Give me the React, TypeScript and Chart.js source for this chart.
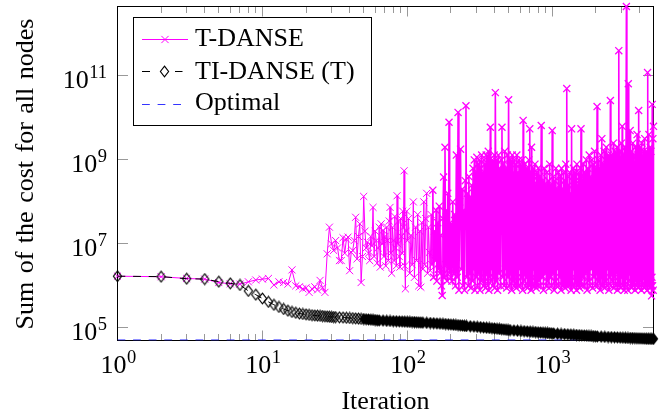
import React, { useEffect, useRef } from 'react';
import { Chart, registerables } from 'chart.js';

Chart.register(...registerables);

const T_DANSE_LABEL = 'T-DANSE';
const TI_DANSE_LABEL = 'TI-DANSE (T)';
const OPTIMAL_LABEL = 'Optimal';
const X_TITLE = 'Iteration';
const Y_TITLE = 'Sum of the cost for all nodes';

const xMajorTicks = [1, 10, 100, 1000];
const xTickExponents = ['0', '1', '2', '3'];
const xMinorTicks = [2, 3, 4, 5, 6, 7, 8, 9, 20, 30, 40, 50, 60, 70, 80, 90, 200, 300, 400, 500, 600, 700, 800, 900, 2000, 3000, 4000];
const yMajorTicks = [1e5, 1e7, 1e9, 1e11];
const yTickExponents = ['5', '7', '9', '11'];

const X_MIN = 1;
const X_MAX = 5000;
const Y_MIN = 5.0e4;
const Y_MAX = 4.5e12;

// T-DANSE: iteration numbers and cost
const tDanseIter = [
  1, 2, 3, 4, 5, 6, 7, 8, 9, 10, 11, 12, 13, 14, 15, 16, 17, 18, 19, 20,
  21, 22, 23, 24, 25, 26, 27, 28, 29, 30, 31, 32, 33, 34, 35, 36, 37, 38, 39, 40,
  41, 42, 43, 44, 45, 46, 47, 48, 49, 50, 51, 52, 53, 54, 55, 56, 57, 58, 59, 60,
  61, 62, 63, 64, 65, 66, 67, 68, 69, 70, 71, 72, 73, 74, 75, 76, 77, 78, 79, 80,
  81, 82, 83, 84, 85, 86, 87, 88, 89, 90, 91, 92, 93, 94, 95, 96, 97, 98, 99, 100,
  102, 104, 106, 108, 110, 112, 114, 116, 118, 120, 122, 124, 126, 128, 130, 132, 134, 136, 138, 140,
  142, 144, 146, 148, 150, 152, 154, 156, 158, 160, 162, 164, 166, 168, 170, 172, 174, 176, 178, 180,
  182, 184, 186, 188, 190, 192, 194, 196, 198, 200,
  203, 206, 209, 212, 215, 218, 221, 224, 227, 230,
  233, 236, 239, 242, 245, 248, 251, 254, 257, 260,
  263, 266, 269, 272, 275, 278, 281, 284, 287, 290,
  293, 296, 299, 302, 305, 308, 311, 314, 317, 320,
  323, 326, 329, 332, 335, 338, 341, 344, 347, 350,
  353, 356, 359, 362, 365, 368, 371, 374, 377, 380,
  383, 386, 389, 392, 395, 398, 401,
  405, 410, 415, 420, 425, 430, 435, 440, 445, 450,
  455, 460, 465, 470, 475, 480, 485, 490, 495, 500,
  505, 510, 515, 520, 525, 530, 535, 540, 545, 550,
  555, 560, 565, 570, 575, 580, 585, 590, 595, 600,
  605, 610, 615, 620, 625, 630, 635, 640, 645, 650,
  655, 660, 665, 670, 675, 680, 685, 690, 695, 700,
  705, 710, 715, 720, 725, 730, 735, 740, 745, 750,
  755, 760, 765, 770, 775, 780, 785, 790, 795, 800,
  810, 820, 830, 840, 850, 860, 870, 880, 890, 900,
  910, 920, 930, 940, 950, 960, 970, 980, 990, 1000,
  1010, 1020, 1030, 1040, 1050, 1060, 1070, 1080, 1090, 1100,
  1110, 1120, 1130, 1140, 1150, 1160, 1170, 1180, 1190, 1200,
  1210, 1220, 1230, 1240, 1250, 1260, 1270, 1280, 1290, 1300,
  1310, 1320, 1330, 1340, 1350, 1360, 1370, 1380, 1390, 1400,
  1410, 1420, 1430, 1440, 1450, 1460, 1470, 1480, 1490, 1500,
  1510, 1520, 1530, 1540, 1550, 1560, 1570, 1580, 1590, 1600,
  1620, 1640, 1660, 1680, 1700, 1720, 1740, 1760, 1780, 1800,
  1820, 1840, 1860, 1880, 1900, 1920, 1940, 1960, 1980, 2000,
  2020, 2040, 2060, 2080, 2100, 2120, 2140, 2160, 2180, 2200,
  2220, 2240, 2260, 2280, 2300, 2320, 2340, 2360, 2380, 2400,
  2420, 2440, 2460, 2480, 2500, 2520, 2540, 2560, 2580, 2600,
  2620, 2640, 2660, 2680, 2700, 2720, 2740, 2760, 2780, 2800,
  2820, 2840, 2860, 2880, 2900, 2920, 2940, 2960, 2980, 3000,
  3020, 3040, 3060, 3080, 3100, 3120, 3140, 3160, 3180, 3200,
  3225, 3250, 3275, 3300, 3325, 3350, 3375, 3400, 3425, 3450,
  3475, 3500, 3525, 3550, 3575, 3600, 3625, 3650, 3675, 3700,
  3725, 3750, 3775, 3800, 3825, 3850, 3875, 3900, 3925, 3950,
  3975, 4000, 4025, 4050, 4075, 4100, 4125, 4150, 4175, 4200,
  4225, 4250, 4275, 4300, 4325, 4350, 4375, 4400, 4425, 4450,
  4475, 4500, 4525, 4550, 4575, 4600, 4625, 4650, 4675, 4700,
  4725, 4750, 4775, 4800, 4825, 4850, 4875, 4900, 4925, 4950,
  4975, 5000,
];
const tDanseCost = [
  1.7e6, 1.65e6, 1.5e6, 1.45e6, 1.2e6, 1.12e6, 1.1e6, 1.25e6, 1.38e6, 1.45e6,
  1.5e6, 1.05e6, 1.25e6, 1.2e6, 1.1e6, 2.4e6, 1.0e6, 9.5e5, 8.5e5, 9.0e5,
  7.0e5, 8.5e5, 9.5e5, 8.0e5, 1.35e6, 9.0e5, 7.0e5, 5.8e6, 2.5e7, 1.0e7,
  7.0e6, 1.2e7, 8e6, 4.0e6, 4.0e6, 1.4e7, 6e6, 1.3e7, 1.45e7, 2.3e6,
  6.3e6, 7e6, 1.2e7, 4.3e7, 4.4e6, 1.5e7, 3.0e7, 1.2e6, 5e6, 1.35e8,
  2e7, 8e6, 1.1e7, 6e6, 4e6, 1.5e7, 9e6, 7.4e7, 5e6, 2e7,
  1.2e7, 3.5e6, 8e6, 2.5e7, 2.8e6, 3e7, 1.0e7, 2.1e7, 5e6, 1.5e7,
  3e6, 2.5e7, 1.2e7, 4e6, 3.5e7, 7.4e7, 6e6, 2e6, 2.5e7, 1.2e7,
  4e6, 4.5e7, 8e6, 3e6, 1.4e8, 1e7, 3.5e7, 5e6, 2.8e6, 4e7,
  1.5e7, 6e6, 6e7, 2.5e7, 5.5e8, 3e6, 8.5e5, 2e7, 6e7, 1.2e7,
  4e7, 2e6, 1.6e7, 3.2e6, 1e8, 1.6e6, 2.5e7, 4e6, 5e7, 1e6,
  2e7, 9.3e5, 3.2e7, 2.5e6, 1e8, 3.2e6, 4e7, 1.6e8, 2e6, 2.5e7,
  6.3e6, 2.3e6, 5e7, 3.2e6, 1.9e8, 1.6e6, 2e7, 4e6, 6.3e7, 1.3e6,
  3.2e7, 2.5e6, 7.9e7, 2e6, 1.6e7, 1e6, 5.9e5, 4e7, 3.9e8, 1.6e6,
  2e9, 3.2e6, 6.3e7, 1.3e6, 1.6e8, 2.5e6, 7.9e9, 2e6, 3.2e7, 1.6e6,
  1.3e6, 1e8, 2e6, 5e7, 1e6, 1.3e9, 1.6e6, 1.35e10, 7.9e5, 1e8,
  1.8e9, 2.5e6, 2e8, 1e6, 6.3e7, 7.9e5, 3.2e8, 1.95e10, 1.6e6, 1.6e8,
  1e6, 4e8, 2e6, 1.3e8, 8.9e5, 2.5e8, 1.3e6, 6.3e8, 2.5e6, 1e9,
  7.9e5, 5e8, 1.6e6, 1.15e9, 1e6, 7.9e8, 2e6, 1e9, 7.9e5, 6.3e8,
  1.3e6, 1.3e9, 2.5e6, 5e8, 1e6, 1e9, 1.6e6, 7.9e8, 8.9e5, 1.3e9,
  2e6, 6.3e8, 1e6, 1.6e9, 7.9e5, 1e9, 1.6e6, 6e9, 1.3e6, 7.9e8,
  2.5e6, 1e9, 1e6, 6.3e8, 1.6e6, 1.3e9, 8.9e5,
  4e10, 1.3e6, 1e9, 7.9e5, 1.3e9, 2e6, 6.3e8, 1e6, 1e9, 6e9,
  1.6e6, 7.9e8, 1e6, 1.6e9, 2.5e6, 6.3e8, 8.9e5, 1.3e9, 1.6e6, 2.7e10,
  1e6, 1e9, 2e6, 9.5e8, 7.9e5, 1.3e9, 1.3e6, 5e8, 1e6, 1e9,
  2e6, 7.9e8, 8.9e5, 1.3e9, 1.6e6, 5e8, 1e6, 1e9, 2.5e6, 7.9e8,
  1e6, 4e8, 1.6e6, 1e9, 7.9e5, 8.7e9, 1.3e6, 5e8, 2e6, 7.9e8,
  1e6, 3.2e8, 1.6e6, 6.3e8, 8.9e5, 4e8, 2e6, 1e9, 1e6, 5.5e9,
  1.3e6, 5e8, 7.9e5, 2e9, 1.6e6, 3.2e8, 1e6, 6.3e8, 2.5e6, 4e8,
  1e6, 7.9e8, 1.3e6, 2.5e8, 8.9e5, 5e8, 2e6, 3.2e8, 1e6, 6.3e8,
  1.3e6, 4e8, 1e6, 6.6e9, 1.6e6, 3.2e8, 7.9e5, 6.3e8, 2e6, 2.5e8,
  1e6, 5e8, 1.3e6, 3.2e8, 8.9e5, 7.9e8, 1.6e6, 2.5e8, 1e6, 5e9,
  2e6, 4e8, 7.9e5, 3.2e8, 1.3e6, 6.3e8, 1e6, 2e8, 2.5e6, 5e8,
  1e6, 2.5e8, 1.6e6, 4e8, 7.9e5, 6.3e8, 2e6, 2e8, 1e6, 5e8,
  1.3e6, 3.2e8, 8.9e5, 7.9e8, 1.6e6, 5e10, 1e6, 4e8, 2e6, 2.5e8,
  1e6, 5e8, 1.3e6, 1.6e8, 7.9e5, 5.5e9, 1.6e6, 4e8, 1e6, 6.3e8,
  2.5e6, 2.5e8, 1e6, 5e8, 1.3e6, 3.2e8, 7.9e5, 7.9e8, 2e6, 2.5e8,
  1e6, 5e8, 1.6e6, 3.2e8, 8.9e5, 6.3e8, 1.3e6, 5.5e9, 1e6, 4e8,
  1.6e6, 7.9e8, 1e6, 5e8, 2e6, 1e9, 7.9e5, 6.3e8, 1.3e6, 1.3e9,
  1e6, 4e8, 2.5e6, 1e9, 8.9e5, 7.9e8, 1.6e6, 1.6e9, 1e6, 6.3e8,
  2e6, 1.86e10, 1e6, 1e9, 1.3e6, 6.3e8, 7.9e5, 1.3e9, 1.6e6, 3.2e9,
  1e6, 7.9e8, 2e6, 1.6e9, 8.9e5, 1e9, 1.3e6, 2e9, 1e6, 6.3e8,
  2.5e6, 1.3e9, 7.9e5, 1e9, 1.6e6, 2.6e10, 1e6, 1.3e9, 2e6, 7.9e8,
  1.3e6, 2.5e9, 8.9e5, 1e9, 1.6e6, 1.6e9, 1e6, 7.9e8, 2e6, 2e9,
  7.9e5, 1.3e9, 1.3e6, 4e11, 1e6, 1.6e9, 2.5e6, 1e9, 8.9e5, 2.5e9,
  1.6e6, 6.3e9, 1e6, 1.3e9, 2e6, 1e9, 7.9e5, 2e9, 1.3e6, 1.6e9,
  1e6, 4.5e12, 1.6e6, 1.3e9, 7.9e5, 6.5e10, 1.3e6, 1e9, 2e6, 5e9,
  1e6, 1.6e9, 8.9e5, 1e9, 1.6e6, 2.5e9, 1e6, 1.3e9, 2.5e6, 7.9e8,
  7.9e5, 2e9, 1.3e6, 1e9, 1e6, 4e9, 2e6, 1.3e9, 8.9e5, 1.5e10,
  1.6e6, 1e9, 1e6, 2e9, 1.3e6, 7.9e8, 7.9e5, 2.5e9, 2e6, 1e9,
  1e6, 1.6e9, 1.6e6, 6.3e8, 8.9e5, 3.2e9, 1.3e6, 1e9, 1e6, 1.6e9,
  2.5e6, 1e9, 7.9e5, 1.2e11, 1.6e6, 1.3e9, 1e6, 4e9, 2e6, 1e9,
  8.9e5, 2e9, 1.3e6, 1.6e9, 1e6, 5.8e5, 1.6e6, 2.1e10, 1e6, 3.2e9,
  7.9e5, 6.3e9,
];

// TI-DANSE (T): iteration numbers and cost
const tiDanseIter = [
  1, 2, 3, 4, 5, 6, 7, 8, 9, 10, 11, 12, 13, 14, 15, 16, 17, 18, 19, 20,
  21, 22, 23, 24, 25, 26, 27, 28, 29, 30, 31, 32,
  34, 36, 38, 40, 42, 44, 46, 48, 50, 52, 54, 56, 58, 60, 62, 64,
  68, 72, 76, 80, 84, 88, 92, 96, 100, 104, 108, 112, 116, 120, 124, 128,
  136, 144, 152, 160, 168, 176, 184, 192, 200, 208, 216, 224, 232, 240, 248, 256,
  272, 288, 304, 320, 336, 352, 368, 384, 400, 416, 432, 448, 464, 480, 496, 512,
  544, 576, 608, 640, 672, 704, 736, 768, 800, 832, 864, 896, 928, 960, 992, 1024,
  1088, 1152, 1216, 1280, 1344, 1408, 1472, 1536, 1600, 1664, 1728, 1792, 1856, 1920, 1984, 2048,
  2176, 2304, 2432, 2560, 2688, 2816, 2944, 3072, 3200, 3328, 3456, 3584, 3712, 3840, 3968, 4096,
  4224, 4352, 4480, 4608, 4736, 4864, 5000,
];
const tiDanseCost = [
  1.70e6, 1.66e6, 1.48e6, 1.45e6, 1.26e6, 1.15e6, 1.05e6, 7.59e5, 6.17e5, 5.01e5,
  4.17e5, 3.55e5, 3.16e5, 2.82e5, 2.57e5, 2.40e5, 2.29e5, 2.19e5, 2.14e5, 2.09e5,
  2.04e5, 2.00e5, 1.97e5, 1.95e5, 1.93e5, 1.91e5, 1.88e5, 1.86e5, 1.84e5, 1.82e5,
  1.81e5, 1.80e5,
  1.78e5, 1.76e5, 1.74e5, 1.72e5, 1.70e5, 1.68e5, 1.66e5, 1.64e5, 1.62e5, 1.60e5, 1.585e5, 1.57e5, 1.55e5, 1.53e5, 1.51e5, 1.50e5,
  1.49e5, 1.47e5, 1.46e5, 1.445e5, 1.435e5, 1.426e5, 1.416e5, 1.406e5, 1.396e5, 1.387e5, 1.377e5, 1.368e5, 1.358e5, 1.349e5, 1.340e5, 1.330e5,
  1.318e5, 1.303e5, 1.288e5, 1.274e5, 1.259e5, 1.245e5, 1.230e5, 1.216e5, 1.202e5, 1.189e5, 1.175e5, 1.161e5, 1.148e5, 1.135e5, 1.122e5, 1.109e5,
  1.091e5, 1.074e5, 1.057e5, 1.040e5, 1.023e5, 1.007e5, 9.93e4, 9.79e4, 9.66e4, 9.53e4, 9.40e4, 9.27e4, 9.14e4, 9.02e4, 8.91e4, 8.81e4,
  8.67e4, 8.55e4, 8.43e4, 8.32e4, 8.20e4, 8.11e4, 8.02e4, 7.93e4, 7.83e4, 7.76e4, 7.69e4, 7.62e4, 7.55e4, 7.48e4, 7.41e4, 7.34e4,
  7.24e4, 7.16e4, 7.08e4, 7.00e4, 6.92e4, 6.84e4, 6.76e4, 6.70e4, 6.64e4, 6.58e4, 6.52e4, 6.46e4, 6.40e4, 6.34e4, 6.28e4, 6.24e4,
  6.17e4, 6.11e4, 6.05e4, 6.00e4, 5.96e4, 5.92e4, 5.87e4, 5.83e4, 5.79e4, 5.75e4, 5.73e4, 5.70e4, 5.68e4, 5.65e4, 5.62e4, 5.60e4,
  5.57e4, 5.55e4, 5.52e4, 5.51e4, 5.50e4, 5.48e4, 5.47e4,
];

// Optimal
const optimalIter = [1, 5000];
const optimalCost = [5.15e4, 5.15e4];

const MAGENTA = '#ff00ff';
const BLUE = '#3434ff';
const TICK_GREY = '#999999';
const FONT = '"Liberation Serif", "Times New Roman", serif';
const DASH = [7.8, 7.8];
// beyond these iterations the overlapping marks merge into solid areas
const SOLID_BAND_FROM = 50;
const DENSE_FROM = 150;

function makeDiamond(filled: boolean): HTMLCanvasElement {
  const c = document.createElement('canvas');
  c.width = 11;
  c.height = 13;
  const g = c.getContext('2d')!;
  g.strokeStyle = '#000';
  g.fillStyle = '#000';
  g.lineWidth = 1.15;
  g.beginPath();
  g.moveTo(5.5, 1.1);
  g.lineTo(9.6, 6.5);
  g.lineTo(5.5, 11.9);
  g.lineTo(1.4, 6.5);
  g.closePath();
  if (filled) g.fill();
  g.stroke();
  return c;
}

function drawPower(ctx: CanvasRenderingContext2D, exp: string, x: number, baseY: number, align: 'right' | 'center') {
  ctx.font = `26px ${FONT}`;
  const wb = ctx.measureText('10').width;
  ctx.font = `18.5px ${FONT}`;
  const we = ctx.measureText(exp).width;
  const left = align === 'right' ? x - wb - we : x - (wb + we) / 2;
  ctx.textAlign = 'left';
  ctx.textBaseline = 'alphabetic';
  ctx.fillStyle = '#000';
  ctx.font = `26px ${FONT}`;
  ctx.fillText('10', left, baseY);
  ctx.font = `18.5px ${FONT}`;
  ctx.fillText(exp, left + wb + 0.5, baseY - 10.5);
}

export default function App() {
  const ref = useRef<HTMLCanvasElement>(null);

  useEffect(() => {
    const canvas = ref.current!;
    const diamond = makeDiamond(false);
    const diamondSolid = makeDiamond(true);

    const axesPlugin = {
      id: 'pgfAxes',
      beforeDatasetsDraw(chart: any) {
        const { ctx, chartArea: a, scales } = chart;
        const xs = scales.x;
        const ys = scales.y;
        ctx.save();
        ctx.strokeStyle = TICK_GREY;
        ctx.lineWidth = 1;
        ctx.beginPath();
        const snap = (p: number) => Math.round(p - 0.5) + 0.5;
        xMajorTicks.forEach((v) => {
          const px = snap(xs.getPixelForValue(v));
          ctx.moveTo(px, a.bottom);
          ctx.lineTo(px, a.bottom - 10);
          ctx.moveTo(px, a.top);
          ctx.lineTo(px, a.top + 10);
        });
        xMinorTicks.forEach((v) => {
          const px = snap(xs.getPixelForValue(v));
          ctx.moveTo(px, a.bottom);
          ctx.lineTo(px, a.bottom - 6.5);
          ctx.moveTo(px, a.top);
          ctx.lineTo(px, a.top + 6.5);
        });
        yMajorTicks.forEach((v) => {
          const py = snap(ys.getPixelForValue(v));
          ctx.moveTo(a.left, py);
          ctx.lineTo(a.left + 10.5, py);
          ctx.moveTo(a.right, py);
          ctx.lineTo(a.right - 10.5, py);
        });
        ctx.stroke();
        ctx.strokeStyle = '#000';
        ctx.strokeRect(a.left, a.top, a.right - a.left, a.bottom - a.top);
        ctx.restore();
      },
      afterDraw(chart: any) {
        const { ctx, chartArea: a, scales } = chart;
        const xs = scales.x;
        const ys = scales.y;
        ctx.save();
        xMajorTicks.forEach((v, i) => {
          drawPower(ctx, xTickExponents[i], xs.getPixelForValue(v) + 0.5, 373, 'center');
        });
        yMajorTicks.forEach((v, i) => {
          drawPower(ctx, yTickExponents[i], 106.5, ys.getPixelForValue(v) + 12.3, 'right');
        });
        ctx.fillStyle = '#000';
        ctx.font = `26px ${FONT}`;
        ctx.textAlign = 'center';
        ctx.textBaseline = 'alphabetic';
        ctx.fillText(X_TITLE, (a.left + a.right) / 2, 408.7);
        ctx.save();
        ctx.translate(33.3, (a.top + a.bottom) / 2 + 0.5);
        ctx.rotate(-Math.PI / 2);
        (ctx as any).wordSpacing = '2px';
        ctx.fillText(Y_TITLE, 0, 0);
        (ctx as any).wordSpacing = '0px';
        ctx.restore();

        // legend
        const L = { left: 133.5, top: 17.5, right: 371.5, bottom: 125.5 };
        ctx.fillStyle = '#fff';
        ctx.fillRect(L.left, L.top, L.right - L.left, L.bottom - L.top);
        ctx.strokeStyle = '#000';
        ctx.lineWidth = 1;
        ctx.strokeRect(L.left, L.top, L.right - L.left, L.bottom - L.top);

        const sx0 = 142;
        const sx1 = 188;
        const mx = 165;
        let y = 39.5;
        ctx.strokeStyle = MAGENTA;
        ctx.beginPath();
        ctx.moveTo(sx0, y);
        ctx.lineTo(sx1, y);
        ctx.moveTo(mx - 3.6, y - 3.6);
        ctx.lineTo(mx + 3.6, y + 3.6);
        ctx.moveTo(mx - 3.6, y + 3.6);
        ctx.lineTo(mx + 3.6, y - 3.6);
        ctx.stroke();
        y = 71.5;
        ctx.strokeStyle = '#000';
        ctx.beginPath();
        ctx.moveTo(sx0, y);
        ctx.lineTo(sx0 + 8, y);
        ctx.moveTo(175, y);
        ctx.lineTo(182.5, y);
        ctx.stroke();
        ctx.drawImage(diamond, 164.5 - 5.5, y - 6.5);
        y = 104.5;
        ctx.strokeStyle = BLUE;
        ctx.setLineDash(DASH);
        ctx.beginPath();
        ctx.moveTo(sx0, y);
        ctx.lineTo(sx1, y);
        ctx.stroke();
        ctx.setLineDash([]);

        ctx.fillStyle = '#000';
        ctx.font = `26px ${FONT}`;
        ctx.textAlign = 'left';
        ctx.fillText(T_DANSE_LABEL, 195, 46);
        ctx.fillText(TI_DANSE_LABEL, 195, 79.3);
        ctx.fillText(OPTIMAL_LABEL, 195, 109.7);
        ctx.restore();
      },
    };

    const chart = new Chart(canvas, {
      type: 'line',
      data: {
        datasets: [
          {
            label: TI_DANSE_LABEL,
            data: tiDanseIter.map((x, i) => ({ x, y: tiDanseCost[i] })),
            borderColor: '#000',
            borderWidth: 1,
            borderDash: DASH,
            pointStyle: ((c: any) => (c.raw && c.raw.x >= SOLID_BAND_FROM ? diamondSolid : diamond)) as any,
            pointRadius: 5,
            order: 0,
            clip: false as any,
          },
          {
            label: T_DANSE_LABEL,
            data: tDanseIter.map((x, i) => ({ x, y: tDanseCost[i] })),
            borderColor: MAGENTA,
            borderWidth: 1,
            segment: {
              borderWidth: (c: any) => (c.p0.parsed.x >= DENSE_FROM ? 1.6 : 1),
            },
            pointStyle: 'crossRot',
            pointRadius: 5,
            pointBorderColor: MAGENTA,
            pointBorderWidth: ((c: any) => (c.raw && c.raw.x >= DENSE_FROM ? 1.3 : 1)) as any,
            order: 1,
            clip: false as any,
          },
          {
            label: OPTIMAL_LABEL,
            data: optimalIter.map((x, i) => ({ x, y: optimalCost[i] })),
            borderColor: BLUE,
            borderWidth: 1,
            borderDash: DASH,
            pointRadius: 0,
            order: 2,
          },
        ],
      },
      options: {
        animation: false,
        responsive: false,
        devicePixelRatio: 1,
        events: [],
        layout: { padding: { left: 117.5, top: 6.5, right: 16.5, bottom: 75.5 } },
        elements: { line: { tension: 0 } },
        plugins: { legend: { display: false }, tooltip: { enabled: false } },
        scales: {
          x: {
            type: 'logarithmic',
            min: X_MIN,
            max: X_MAX,
            ticks: { display: false },
            grid: { display: false },
            border: { display: false },
            afterFit: (s: any) => { s.height = 0; },
          },
          y: {
            type: 'logarithmic',
            min: Y_MIN,
            max: Y_MAX,
            ticks: { display: false },
            grid: { display: false },
            border: { display: false },
            afterFit: (s: any) => { s.width = 0; },
          },
        },
      },
      plugins: [axesPlugin],
    });
    return () => chart.destroy();
  }, []);

  return (
    <div style={{ position: 'fixed', left: 0, top: 0, width: 670, height: 416, background: '#fff' }}>
      <canvas ref={ref} width={670} height={416} style={{ display: 'block' }} />
    </div>
  );
}
